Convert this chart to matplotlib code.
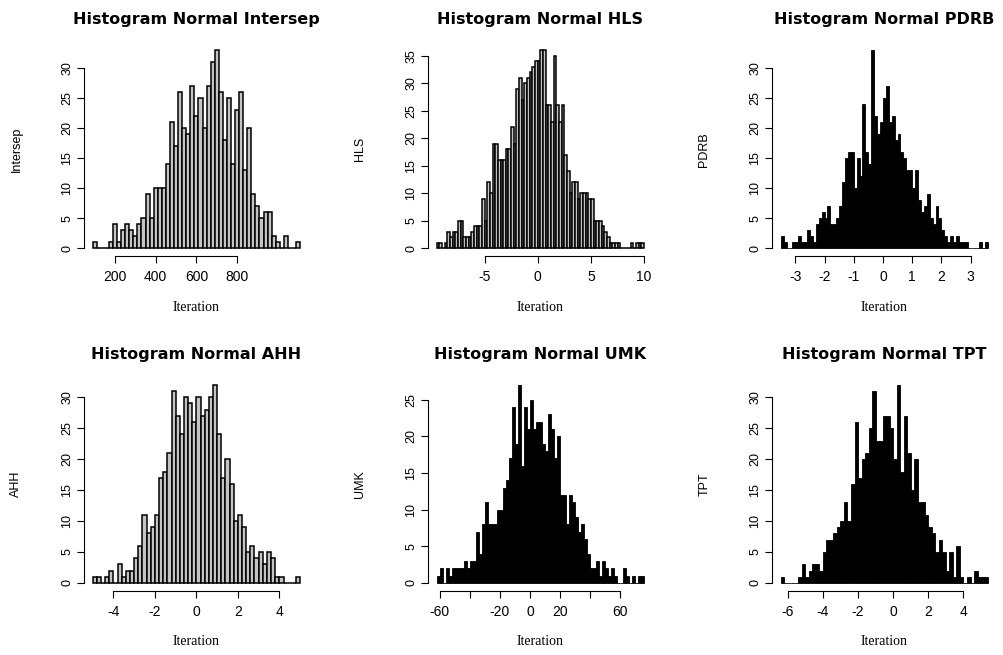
import matplotlib
matplotlib.use('Agg')
import matplotlib.pyplot as plt

# Bin layouts (first edge, bin width) and counts
intersep_start, intersep_width = 90, 20
intersep_counts = [1, 0, 0, 0, 1, 4, 1, 3, 4, 3, 2, 4, 5, 9, 5, 10, 10, 10, 14, 21,
                   17, 26, 20, 19, 27, 22, 25, 20, 27, 31, 33, 26, 18, 25, 14, 23, 26, 13, 20, 9,
                   7, 5, 6, 6, 2, 1, 0, 2, 0, 0, 1]

hls_start, hls_width = -9.5, 0.25
hls_counts = [1, 1, 0, 1, 3, 2, 3, 3, 5, 5, 2, 2, 2, 3, 4, 4, 4, 9, 5, 12,
              10, 19, 19, 16, 16, 16, 18, 18, 22, 19, 29, 31, 27, 30, 31, 32, 33, 34, 34, 36,
              36, 26, 26, 23, 35, 26, 23, 26, 17, 14, 10, 12, 12, 9, 10, 10, 10, 9, 9, 5,
              5, 5, 4, 3, 2, 1, 1, 1, 1, 0, 0, 0, 0, 1, 0, 1, 1, 1]

pdrb_start, pdrb_width = -3.5, 0.1
pdrb_counts = [2, 1, 0, 0, 1, 1, 2, 1, 1, 3, 2, 1, 4, 5, 6, 5, 7, 4, 4, 5,
               7, 11, 15, 16, 16, 10, 15, 12, 24, 16, 14, 33, 22, 19, 21, 25, 27, 21, 22, 18,
               19, 16, 15, 13, 13, 10, 13, 8, 6, 7, 9, 5, 4, 7, 5, 3, 2, 1, 2, 1,
               2, 1, 1, 1, 0, 0, 0, 0, 1, 0, 1]

ahh_start, ahh_width = -5, 0.2
ahh_counts = [1, 1, 0, 1, 2, 0, 3, 1, 2, 2, 4, 6, 11, 8, 9, 11, 17, 18, 21, 31,
              27, 24, 30, 29, 26, 30, 27, 28, 30, 32, 24, 17, 20, 16, 10, 11, 9, 5, 6, 4,
              5, 3, 5, 4, 1, 1, 0, 0, 0, 1]

umk_start, umk_width = -62, 2
umk_counts = [1, 2, 0, 2, 1, 2, 2, 2, 2, 3, 2, 3, 3, 7, 4, 8, 11, 8, 8, 8,
              10, 10, 13, 14, 17, 24, 19, 27, 16, 24, 21, 25, 21, 22, 22, 19, 18, 23, 21, 17,
              20, 12, 12, 8, 12, 11, 9, 7, 8, 6, 4, 2, 2, 3, 1, 3, 2, 1, 2, 1,
              0, 0, 2, 1, 0, 1, 0, 1, 1]

tpt_start, tpt_width = -6.4, 0.2
tpt_counts = [1, 0, 0, 0, 0, 1, 3, 1, 2, 3, 3, 2, 5, 7, 7, 8, 9, 10, 13, 10,
              16, 26, 17, 20, 21, 25, 31, 23, 23, 27, 27, 25, 20, 32, 18, 27, 21, 15, 20, 13,
              13, 11, 9, 8, 5, 7, 5, 2, 5, 1, 6, 1, 0, 1, 0, 2, 1, 1, 1]

intersep_ticks = [200, 400, 600, 800]
hls_ticks = [-5, 0, 5, 10]
pdrb_ticks = [-3, -2, -1, 0, 1, 2, 3]
ahh_ticks = [-4, -2, 0, 2, 4]
umk_ticks = [-60, -40, -20, 0, 20, 40, 60]
umk_labels = ['-60', '', '-20', '0', '20', '', '60']
tpt_ticks = [-6, -4, -2, 0, 2, 4]

panels = [
    ("Intersep", intersep_start, intersep_width, intersep_counts, intersep_ticks, None, 30, 'gray'),
    ("HLS", hls_start, hls_width, hls_counts, hls_ticks, None, 35, 'gray'),
    ("PDRB", pdrb_start, pdrb_width, pdrb_counts, pdrb_ticks, None, 30, 'black'),
    ("AHH", ahh_start, ahh_width, ahh_counts, ahh_ticks, None, 30, 'gray'),
    ("UMK", umk_start, umk_width, umk_counts, umk_ticks, umk_labels, 25, 'black'),
    ("TPT", tpt_start, tpt_width, tpt_counts, tpt_ticks, None, 30, 'black'),
]

W, H = 1004, 655
fig = plt.figure(figsize=(W / 100, H / 100), dpi=100)

lefts = [84.4, 428.4, 772.4]
tops = [42.4, 377.0]
aw, ah = 224.0, 213.8

sans = ['Liberation Sans', 'DejaVu Sans']
serif = ['Liberation Serif', 'DejaVu Serif']

for i, (name, start, width, counts, ticks, labels, ymax_tick, fill) in enumerate(panels):
    row, col = divmod(i, 3)
    ax = fig.add_axes([lefts[col] / W, 1 - (tops[row] + ah) / H, aw / W, ah / H])

    n = len(counts)
    lefts_bins = [start + k * width for k in range(n)]
    if fill == 'gray':
        ax.bar(lefts_bins, counts, width=width, align='edge',
               facecolor='#c4c4c4', edgecolor='black', linewidth=1.1)
    else:
        ax.bar(lefts_bins, counts, width=width, align='edge',
               facecolor='black', edgecolor='black', linewidth=0.6)

    # R style axis ranges: 4% padding each side
    x0, x1 = start, start + n * width
    pad = 0.04 * (x1 - x0)
    ax.set_xlim(x0 - pad, x1 + pad)
    cmax = max(counts)
    ax.set_ylim(-0.04 * cmax, 1.04 * cmax)

    for s in ['top', 'right']:
        ax.spines[s].set_visible(False)
    yt = list(range(0, ymax_tick + 1, 5))
    ax.set_yticks(yt)
    ax.set_yticklabels([str(v) for v in yt], rotation=90, va='center',
                       family=sans, fontsize=9)
    ax.set_xticks(ticks)
    ax.set_xticklabels(labels if labels else [str(t) for t in ticks],
                       family=sans, fontsize=10)
    ax.spines['left'].set_bounds(yt[0], yt[-1])
    ax.spines['bottom'].set_bounds(ticks[0], ticks[-1])
    for s in ['left', 'bottom']:
        ax.spines[s].set_linewidth(0.8)
    ax.tick_params(axis='both', direction='out', length=5, width=0.8)
    ax.tick_params(axis='x', pad=5)
    ax.tick_params(axis='y', pad=3)

    ax.set_title("Histogram Normal " + name, fontsize=11.5, fontweight='bold',
                 family=['DejaVu Sans'], pad=13)
    ax.set_xlabel("Iteration", family=serif, fontsize=10, labelpad=12)
    ax.set_ylabel(name, family=['Liberation Sans Narrow'] + sans, fontsize=9, labelpad=28)

fig.savefig('out.png', dpi=100)
